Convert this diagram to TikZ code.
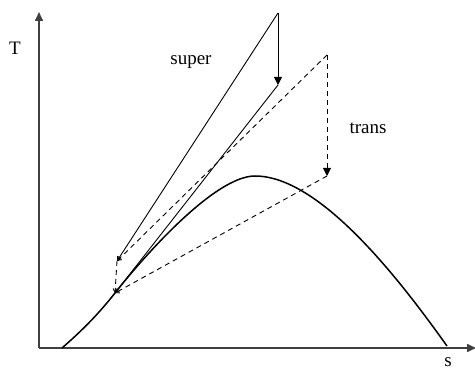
\documentclass[tikz,border=0pt]{standalone}
\usepackage{fontspec}
\setmainfont{Liberation Serif}
\usetikzlibrary{arrows.meta}
\begin{document}
\begin{tikzpicture}[x=1pt,y=-1pt,
  axis/.style={line width=1.6pt,draw=black!75,-{Triangle[length=9pt,width=8pt]}},
  thin/.style={line width=0.9pt},
  dsh/.style={line width=0.9pt,dash pattern=on 5pt off 4pt},
  bigtip/.style={-{Triangle[length=8pt,width=8pt]}},
  smalltip/.style={-{Straight Barb[length=3.5pt,width=4.5pt]}},
  lbl/.style={font=\fontsize{19}{21}\selectfont,inner sep=0pt}]
\useasboundingbox (0,0) rectangle (475,369);
% coordinates
\coordinate (O) at (39,348);
\coordinate (Ytop) at (39,12);
\coordinate (Xend) at (476,348);
\coordinate (C0) at (62,348);
\coordinate (P) at (115,293);
\coordinate (Q) at (117,261);
\coordinate (S1) at (278,13);
\coordinate (S2) at (278,85);
\coordinate (T1) at (327,55);
\coordinate (T2) at (327,176);
\coordinate (Pk) at (255,176);
\coordinate (C1) at (447,346);
% axes
\draw[axis] (O) -- (Ytop);
\draw[axis] (O) -- (Xend);
% saturation curve
\draw[line width=1.5pt] (C0) .. controls (85,328) and (100,312) .. (P)
  .. controls (145,255) and (215,176) .. (Pk)
  .. controls (320,176) and (400,280) .. (C1);
% super (solid)
\draw[thin,smalltip] (S1) -- (Q);
\draw[thin,bigtip] (S1) -- (S2);
\draw[thin,smalltip] (S2) -- (P);
% trans (dashed)
\draw[dsh,smalltip] (T1) -- (Q);
\draw[dsh,smalltip] (Q) -- (P);
\draw[dsh,bigtip] (T1) -- (T2);
\draw[dsh,smalltip] (T2) -- (P);
% labels
\node[lbl] (Tl) at (15,48) {T};
\node[lbl,anchor=north] (sl) at (448,357) {s};
\node[lbl] (sup) at (191,62) {super};
\node[lbl] (tr) at (368,128) {trans};
\end{tikzpicture}
\end{document}
